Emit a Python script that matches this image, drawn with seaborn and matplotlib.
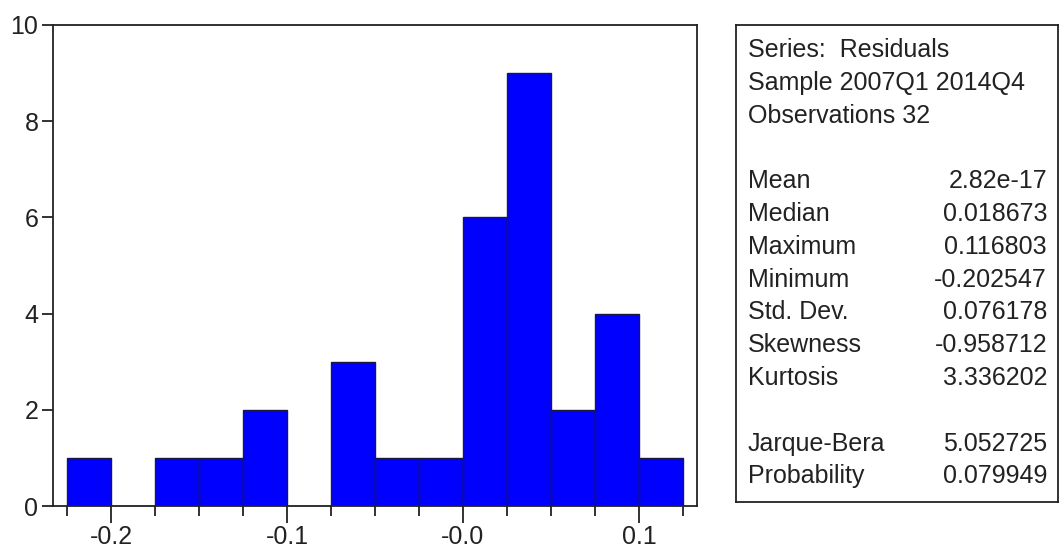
import matplotlib
matplotlib.use("Agg")
import matplotlib.pyplot as plt
import seaborn as sns
from matplotlib.ticker import FixedLocator

# histogram of residuals (EViews style)
bin_edges = [-0.225, -0.2, -0.175, -0.15, -0.125, -0.1, -0.075, -0.05,
             -0.025, 0.0, 0.025, 0.05, 0.075, 0.1, 0.125]
counts = [1, 0, 1, 1, 2, 0, 3, 1, 1, 6, 9, 2, 4, 1]
bin_mids = [(a + b) / 2 for a, b in zip(bin_edges[:-1], bin_edges[1:])]

x_ticks = [-0.2, -0.1, 0.0, 0.1]
x_tick_labels = ["-0.2", "-0.1", "-0.0", "0.1"]
y_ticks = [0, 2, 4, 6, 8, 10]

header_lines = ["Series:  Residuals", "Sample 2007Q1 2014Q4", "Observations 32"]
stat_names = ["Mean", "Median", "Maximum", "Minimum", "Std. Dev.", "Skewness", "Kurtosis"]
stat_values = ["2.82e-17", "0.018673", "0.116803", "-0.202547", "0.076178", "-0.958712", "3.336202"]
test_names = ["Jarque-Bera", "Probability"]
test_values = ["5.052725", "0.079949"]

sns.set_style("ticks")
plt.rcParams['font.family'] = ['Liberation Sans', 'DejaVu Sans']

W, H = 1059, 551
fig = plt.figure(figsize=(W / 100, H / 100), dpi=100)
ax = fig.add_axes([53 / W, (H - 506) / H, (697 - 53) / W, (506 - 25) / H])

sns.histplot(x=bin_mids, weights=counts, bins=bin_edges, ax=ax,
             color="#0000ff", alpha=1.0, edgecolor="#1a1a40", linewidth=1.0)

ax.set_xlim(-0.233, 0.133)
ax.set_ylim(0, 10)
ax.set_xlabel("")
ax.set_ylabel("")
ax.xaxis.set_major_locator(FixedLocator(x_ticks))
ax.set_xticklabels(x_tick_labels)
ax.xaxis.set_minor_locator(FixedLocator(bin_edges))
ax.set_yticks(y_ticks)
ax.tick_params(axis="x", which="major", length=12, width=1.3, color="#222222",
               labelsize=18, pad=1.5, labelcolor="#222222")
ax.tick_params(axis="x", which="minor", length=7, width=1.3, color="#222222")
ax.tick_params(axis="y", length=8, width=1.3, color="#222222",
               labelsize=18, pad=2.5, labelcolor="#222222")
for s in ax.spines.values():
    s.set_visible(True)
    s.set_linewidth(1.3)
    s.set_color("#222222")

# statistics box
box = fig.add_axes([736 / W, (H - 502) / H, (1058 - 736) / W, (502 - 25) / H])
box.set_xticks([])
box.set_yticks([])
for s in box.spines.values():
    s.set_linewidth(1.3)
    s.set_color("#222222")

rows = [(t, "") for t in header_lines] + [("", "")]
rows += list(zip(stat_names, stat_values)) + [("", "")]
rows += list(zip(test_names, test_values))

y0, dy = 50, 32.8
for i, (name, val) in enumerate(rows):
    y = 1 - (y0 + i * dy) / H
    if name:
        fig.text(748 / W, y, name, ha="left", va="center", fontsize=18, color="#222222")
    if val:
        fig.text(1047 / W, y, val, ha="right", va="center", fontsize=18, color="#222222")

fig.savefig("out.png", dpi=100)
